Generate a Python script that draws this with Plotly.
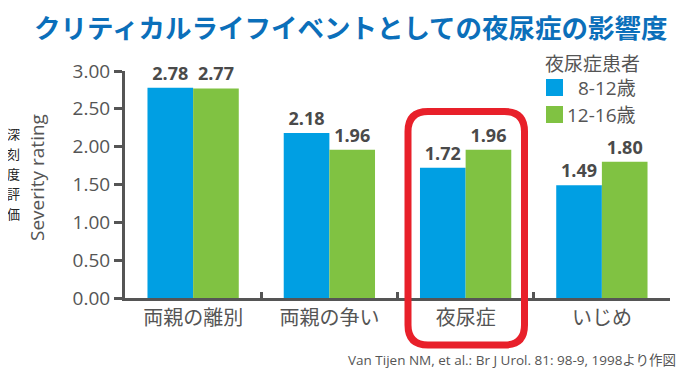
import plotly.graph_objects as go

categories = ["両親の離別", "両親の争い", "夜尿症", "いじめ"]
age_8_12 = [2.78, 2.18, 1.72, 1.49]
age_12_16 = [2.77, 1.96, 1.96, 1.80]
series_names = ["8-12歳", "12-16歳"]
y_ticks = [0, 0.5, 1.0, 1.5, 2.0, 2.5, 3.0]

# page has an 8px body margin; figure coordinates = page coordinates - 8
OFF = 8
W, H = 691 - OFF, 372 - OFF
PLOT_L, PLOT_R, PLOT_T, PLOT_B = 125, 670, 71, 298  # page pixels
L, R, T, B = PLOT_L - OFF, W - (PLOT_R - OFF), PLOT_T - OFF, H - (PLOT_B - OFF)
PW, PH = PLOT_R - PLOT_L, PLOT_B - PLOT_T

def px(x):
    return (x - PLOT_L) / PW

def py(y):
    return (PLOT_B - y) / PH

BLUE = "#009fe3"
GREEN = "#80c242"
GRAY = "#555555"
FONT = "Open Sans, Noto Sans CJK JP, sans-serif"

fig = go.Figure()
for name, vals, col in [(series_names[0], age_8_12, BLUE), (series_names[1], age_12_16, GREEN)]:
    fig.add_trace(go.Bar(
        x=categories, y=vals, name=name, marker=dict(color=col, line=dict(width=0)),
        text=[f"<b>{v:.2f}</b>" for v in vals], textposition="outside",
        textfont=dict(size=18, color="#4a4a4a", family=FONT),
        cliponaxis=False, showlegend=False,
    ))

fig.update_layout(
    width=W, height=H, margin=dict(l=L, r=R, t=T, b=B, pad=0),
    paper_bgcolor="white", plot_bgcolor="white",
    barmode="group", bargap=0.33, bargroupgap=0,
    font=dict(family=FONT, color=GRAY),
    xaxis=dict(
        showline=True, linecolor=GRAY, linewidth=3, ticks="inside", ticklen=6,
        tickwidth=3, tickcolor=GRAY, tickson="boundaries",
        tickfont=dict(size=20, color=GRAY, family="Noto Sans CJK JP"),
        showgrid=False, zeroline=False,
    ),
    yaxis=dict(
        range=[0, 3.0], tickvals=y_ticks, tickformat=".2f",
        showline=True, linecolor=GRAY, linewidth=3, ticks="outside", ticklen=8,
        tickwidth=3, tickcolor=GRAY, tickfont=dict(size=19, color=GRAY),
        showgrid=False, zeroline=False,
    ),
)

# Title
fig.add_annotation(
    text="<b>クリティカルライフイベントとしての夜尿症の影響度</b>",
    xref="paper", yref="paper", x=px(351), y=py(26), xanchor="center", yanchor="middle",
    showarrow=False, borderpad=0,
    font=dict(size=26.5, color="#0b6fba", family="Noto Sans CJK JP"),
)

# Y axis title
fig.add_annotation(
    text="Severity rating", textangle=-90,
    xref="paper", yref="paper", x=px(37), y=py(178), xanchor="center", yanchor="middle",
    showarrow=False, font=dict(size=19, color=GRAY),
)
for i, ch in enumerate("深刻度評価"):
    fig.add_annotation(
        text=ch, xref="paper", yref="paper", x=px(13), y=py(133 + 20 * i),
        xanchor="center", yanchor="middle", showarrow=False,
        font=dict(size=13, color="#222222", family="Noto Sans CJK JP"),
    )

# Legend (manual)
fig.add_annotation(
    text="夜尿症患者", xref="paper", yref="paper", x=px(543), y=py(63),
    xanchor="left", yanchor="middle", showarrow=False,
    font=dict(size=19, color=GRAY, family="Noto Sans CJK JP"),
)
for i, (name, col) in enumerate(zip(series_names, [BLUE, GREEN])):
    y0 = 79 + 27 * i
    fig.add_shape(type="rect", xref="paper", yref="paper",
                  x0=px(546), x1=px(563), y0=py(y0), y1=py(y0 + 17),
                  fillcolor=col, line=dict(width=0))
    fig.add_annotation(
        text=name, xref="paper", yref="paper", x=px(638), y=py(y0 + 9),
        xanchor="right", yanchor="middle", showarrow=False,
        font=dict(size=19, color=GRAY, family="Open Sans, Noto Sans CJK JP"),
    )

# Red rounded rectangle highlighting 夜尿症
x0, x1, y0, y1, r = 408, 524.5, 111.5, 345, 20
rx, ry = r / PW, r / PH
X0, X1, Y0, Y1 = px(x0), px(x1), py(y0), py(y1)
path = (f"M {X0+rx},{Y0} L {X1-rx},{Y0} Q {X1},{Y0} {X1},{Y0-ry} "
        f"L {X1},{Y1+ry} Q {X1},{Y1} {X1-rx},{Y1} "
        f"L {X0+rx},{Y1} Q {X0},{Y1} {X0},{Y1+ry} "
        f"L {X0},{Y0-ry} Q {X0},{Y0} {X0+rx},{Y0} Z")
fig.add_shape(type="path", path=path, xref="paper", yref="paper",
              line=dict(color="#e8202a", width=7), fillcolor="rgba(0,0,0,0)")

# Source
fig.add_annotation(
    text="Van Tijen NM, et al.: Br J Urol. 81: 98-9, 1998より作図",
    xref="paper", yref="paper", x=px(678), y=py(360), xanchor="right", yanchor="middle",
    showarrow=False, font=dict(size=13.5, color=GRAY, family="Open Sans, Noto Sans CJK JP"),
)

fig.write_html("out.html")
